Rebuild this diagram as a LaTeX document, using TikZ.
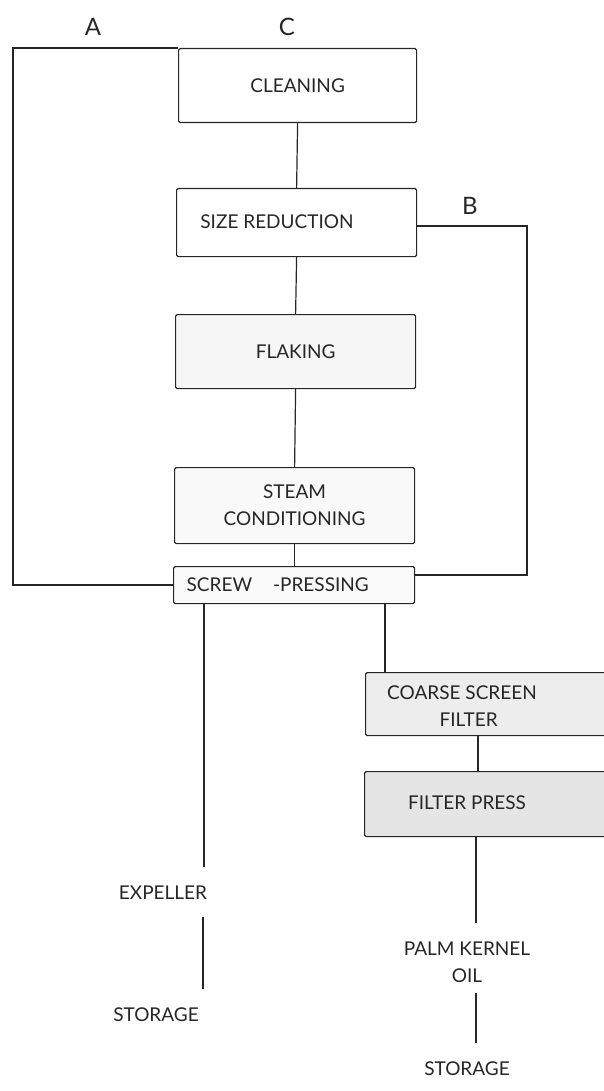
\documentclass[tikz,border=0pt]{standalone}
\usepackage{fontspec}
\setmainfont{Lato}
\begin{document}
\begin{tikzpicture}[x=1pt,y=-1pt,
  line width=1.2pt, draw=black!85,
  box/.style={draw=black!85, line width=1.2pt, rounded corners=1.5pt, anchor=north west, inner sep=0pt},
  lbl/.style={font=\fontsize{19}{27}\selectfont, text=black!85, inner sep=0pt, align=center},
  tag/.style={font=\fontsize{24}{26}\selectfont, text=black!85, inner sep=0pt},
  conn/.style={draw=black!85, line width=1.2pt}]
\useasboundingbox (0,0) rectangle (603,1091);
% boxes
\node[box, minimum width=238pt, minimum height=74pt] (clean) at (178,48) {};
\node[box, minimum width=240pt, minimum height=68pt] (size) at (176,188) {};
\node[box, fill=gray!7, minimum width=240pt, minimum height=74pt] (flak) at (175,314) {};
\node[box, fill=gray!5, minimum width=240pt, minimum height=76pt] (steam) at (174,467) {};
\node[box, fill=gray!4, minimum width=241pt, minimum height=37pt] (screw) at (173,566) {};
\node[box, fill=gray!14, minimum width=260pt, minimum height=63pt] (coarse) at (365,672) {};
\node[box, fill=gray!20, minimum width=260pt, minimum height=65pt] (fpress) at (364,771) {};
% texts
\node[lbl] (tclean) at (clean.center) {CLEANING};
\node[lbl] (tsize) at (277,222) {SIZE REDUCTION};
\node[lbl] (tflak) at (flak.center) {FLAKING};
\node[lbl] (tsteam) at (steam.center) {STEAM\\CONDITIONING};
\node[lbl, anchor=west] (tscrew) at (186,585) {SCREW\hspace{1.1em}-PRESSING};
\node[lbl] (tcoarse) at (462,706) {COARSE SCREEN\\\hspace{0.7em}FILTER};
\node[lbl] (tfpress) at (467,803) {FILTER PRESS};
\node[lbl] (expel) at (163,893) {EXPELLER};
\node[lbl] (stor1) at (156,1015) {STORAGE};
\node[lbl] (pko) at (467,962) {PALM KERNEL\\OIL};
\node[lbl] (stor2) at (467,1069) {STORAGE};
\node[tag] (tA) at (93,27) {A};
\node[tag] (tC) at (287,27) {C};
\node[tag] (tB) at (470,206) {B};
% main chain
\draw[conn] (clean.south) -- (size.north);
\draw[conn] (size.south) -- (flak.north);
\draw[conn] (flak.south) -- (steam.north);
\draw[conn] (steam.south) -- (steam.south |- screw.north);
% loop A
\coordinate (a1) at (13,48);
\coordinate (a2) at (13,585);
\draw[conn] (clean.north west) -- (a1) -- (a2) -- (a2 -| screw.west);
% loop B
\coordinate (b1) at (527,226);
\coordinate (b2) at (527,575);
\draw[conn] (size.east |- b1) -- (b1) -- (b2) -- (b2 -| screw.east);
% outputs
\coordinate (e0) at (204,603);
\coordinate (e1) at (204,867);
\coordinate (e2) at (203,917);
\coordinate (e3) at (203,989);
\draw[conn] (e0) -- (e1);
\draw[conn] (e2) -- (e3);
\coordinate (c0) at (385,603);
\draw[conn] (c0) -- (c0 |- coarse.north);
\coordinate (f0) at (478,735);
\draw[conn] (f0) -- (f0 |- fpress.north);
\coordinate (p0) at (476,836);
\coordinate (p1) at (476,923);
\coordinate (p2) at (476,993);
\coordinate (p3) at (476,1043);
\draw[conn] (p0) -- (p1);
\draw[conn] (p2) -- (p3);
\end{tikzpicture}
\end{document}
